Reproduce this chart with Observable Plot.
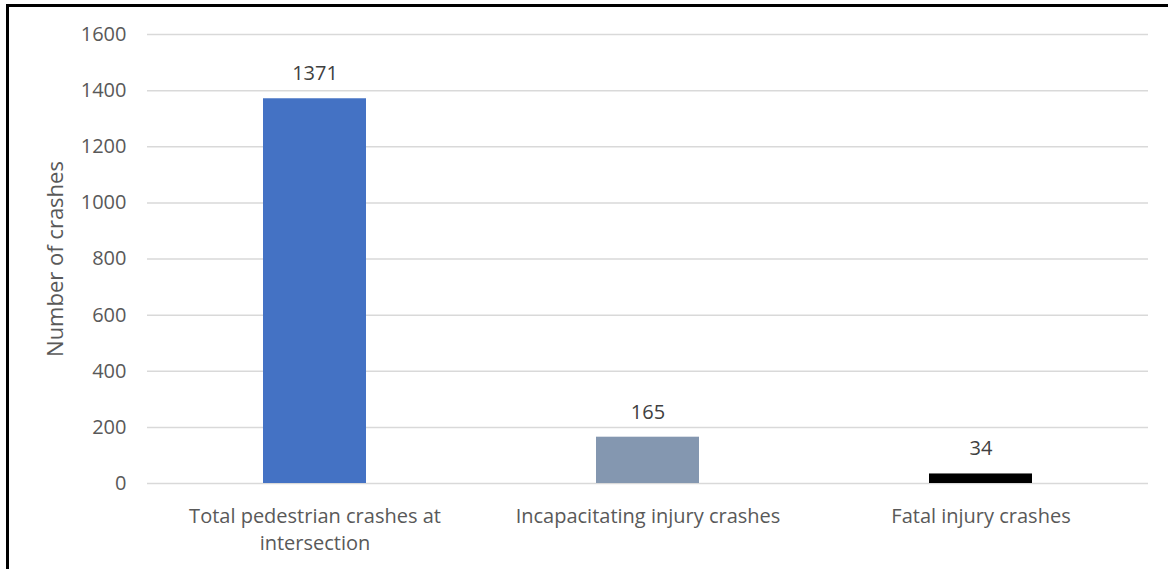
<!DOCTYPE html>
<html>
<head>
<meta charset="utf-8">
<script src="https://cdn.jsdelivr.net/npm/d3@7"></script>
<script src="https://cdn.jsdelivr.net/npm/@observablehq/plot@0.6"></script>
<style>
  html, body { margin: 0; padding: 0; background: #fff; }
  #wrap { position: relative; width: 1168px; height: 569px; overflow: hidden; }
  #frame { position: absolute; left: 6px; top: 4px; right: 0; bottom: 0;
           border-top: 3px solid #000; border-left: 3px solid #000; pointer-events: none; }
</style>
</head>
<body>
<div id="wrap"><div id="chart"></div><div id="frame"></div></div>
<script>
const categories = ["Total pedestrian crashes at intersection", "Incapacitating injury crashes", "Fatal injury crashes"];
const tickLabels = ["Total pedestrian crashes at\nintersection", "Incapacitating injury crashes", "Fatal injury crashes"];
const values = [1371, 165, 34];
const colors = ["#4472C4", "#8497B0", "#000000"];
const yTicks = [0, 200, 400, 600, 800, 1000, 1200, 1400, 1600];
const yLabel = "Number of crashes";

const data = categories.map((c, i) => ({category: c, value: values[i], color: colors[i]}));
const labelOf = new Map(categories.map((c, i) => [c, tickLabels[i]]));

const chart = Plot.plot({
  width: 1168,
  height: 569,
  marginLeft: 147,
  marginRight: 20,
  marginTop: 34,
  marginBottom: 86,
  style: {fontFamily: "'Open Sans', sans-serif", fontSize: "20px", color: "#595959", background: "transparent"},
  x: {domain: categories, paddingInner: 0.69, paddingOuter: 0.345, axis: null},
  y: {domain: [0, 1600], axis: null},
  marks: [
    Plot.gridY(yTicks, {stroke: "#d9d9d9", strokeOpacity: 1, strokeWidth: 1.5}),
    Plot.axisY(yTicks, {tickSize: 0, tickPadding: 21, label: null, fill: "#595959", fontSize: 20, tickFormat: d => String(d)}),
    Plot.axisX({tickSize: 0, tickPadding: 20, label: null, fill: "#595959", fontSize: 20, lineHeight: 1.36,
                tickFormat: d => labelOf.get(d)}),
    Plot.barY(data, {x: "category", y: "value", fill: "color"}),
    Plot.text(data, {x: "category", y: "value", text: d => String(d.value), dy: -25, fill: "#404040", fontSize: 20}),
    Plot.text([yLabel], {text: d => d, frameAnchor: "left", textAnchor: "middle", dx: -92, rotate: -90, fill: "#595959", fontSize: 22})
  ]
});
document.getElementById("chart").appendChild(chart);
</script>
</body>
</html>
